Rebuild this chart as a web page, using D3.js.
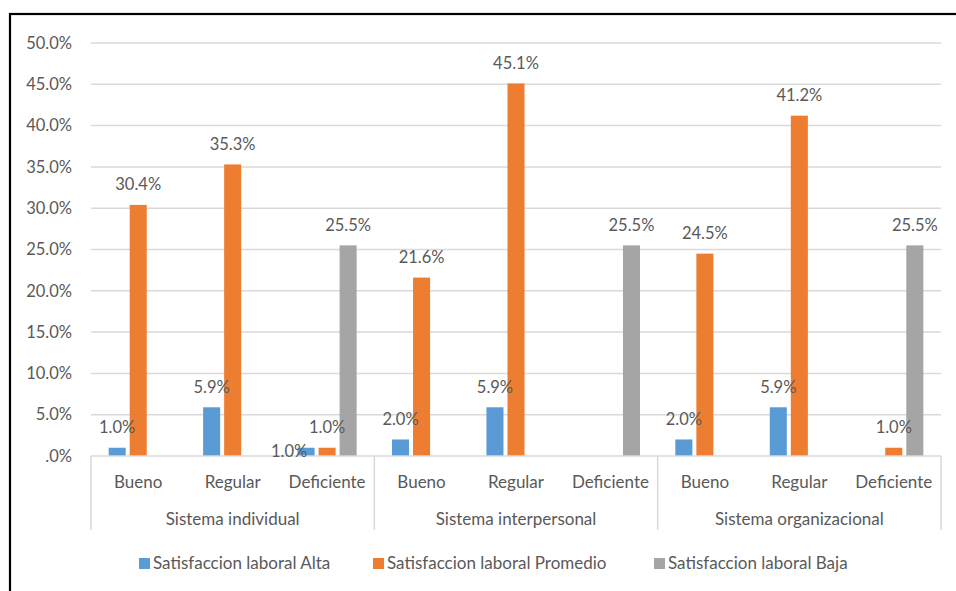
<!DOCTYPE html>
<html>
<head>
<meta charset="utf-8">
<script src="https://cdn.jsdelivr.net/npm/d3@7"></script>
<style>
  html, body { margin: 0; padding: 0; background: #fff; }
  svg { display: block; }
  text { font-family: Lato, "Open Sans", sans-serif; fill: #595959; }
</style>
</head>
<body>
<svg id="chart" width="956" height="591"></svg>
<script>
// Data
const groups = ["Sistema individual", "Sistema interpersonal", "Sistema organizacional"];
const categories = ["Bueno", "Regular", "Deficiente"];
const seriesNames = ["Satisfaccion laboral Alta", "Satisfaccion laboral Promedio", "Satisfaccion laboral Baja"];
// values per group, in category order
const alta = [[1.0, 5.9, 1.0], [2.0, 5.9, 0], [2.0, 5.9, 0]];
const promedio = [[30.4, 35.3, 1.0], [21.6, 45.1, 0], [24.5, 41.2, 1.0]];
const baja = [[0, 0, 25.5], [0, 0, 25.5], [0, 0, 25.5]];
const yTicks = [0, 5, 10, 15, 20, 25, 30, 35, 40, 45, 50];

const colors = ["#5B9BD5", "#ED7D31", "#A5A5A5"];
const seriesValues = [alta, promedio, baja];
const numSize = 16.5, textSize = 17;

const svg = d3.select("#chart");

// outer frame
svg.append("rect")
  .attr("x", 10).attr("y", 14).attr("width", 980).attr("height", 620)
  .attr("fill", "none").attr("stroke", "#000").attr("stroke-width", 2.2);

const plot = { left: 91, right: 941, top: 43, bottom: 456 };

const y = d3.scaleLinear().domain([0, 50]).range([plot.bottom, plot.top]);
const xGroup = d3.scaleBand().domain(groups).range([plot.left, plot.right]);
const xCat = d3.scaleBand().domain(categories).range([0, xGroup.bandwidth()]);
const xSeries = d3.scaleBand().domain(d3.range(3))
  .range([0, xCat.bandwidth()]).paddingInner(0.19).paddingOuter(0.84);

// gridlines
svg.append("g").selectAll("line").data(yTicks.filter(d => d > 0)).join("line")
  .attr("x1", plot.left).attr("x2", plot.right)
  .attr("y1", d => y(d)).attr("y2", d => y(d))
  .attr("stroke", "#d9d9d9").attr("stroke-width", 1.5);

// y tick labels
const yFmt = v => v === 0 ? ".0%" : v.toFixed(1) + "%";
svg.append("g").selectAll("text").data(yTicks).join("text")
  .attr("x", 72).attr("y", d => y(d)).attr("dy", "0.35em")
  .attr("text-anchor", "end").attr("font-size", numSize)
  .text(yFmt);

// bars
const bars = [];
groups.forEach((g, gi) => {
  categories.forEach((c, ci) => {
    seriesValues.forEach((vals, si) => {
      bars.push({ g, c, gi, ci, si, v: vals[gi][ci] });
    });
  });
});
const barX = d => xGroup(d.g) + xCat(d.c) + xSeries(d.si);

svg.append("g").selectAll("rect").data(bars.filter(d => d.v > 0)).join("rect")
  .attr("x", barX)
  .attr("y", d => y(d.v))
  .attr("width", xSeries.bandwidth())
  .attr("height", d => y(0) - y(d.v))
  .attr("fill", d => colors[d.si]);

// x axis line and category separators
svg.append("line")
  .attr("x1", plot.left).attr("x2", plot.right)
  .attr("y1", plot.bottom).attr("y2", plot.bottom)
  .attr("stroke", "#d9d9d9").attr("stroke-width", 1.5);
const seps = groups.map(g => xGroup(g)).concat([plot.right]);
svg.append("g").selectAll("line").data(seps).join("line")
  .attr("x1", d => d).attr("x2", d => d)
  .attr("y1", plot.bottom).attr("y2", 530)
  .attr("stroke", "#d9d9d9").attr("stroke-width", 1.5);

// category labels
const catLabels = [];
groups.forEach(g => categories.forEach(c => catLabels.push({ g, c })));
svg.append("g").selectAll("text").data(catLabels).join("text")
  .attr("x", d => xGroup(d.g) + xCat(d.c) + xCat.bandwidth() / 2)
  .attr("y", 482).attr("dy", "0.35em")
  .attr("text-anchor", "middle").attr("font-size", textSize)
  .text(d => d.c);

// group labels
svg.append("g").selectAll("text").data(groups).join("text")
  .attr("x", d => xGroup(d) + xGroup.bandwidth() / 2)
  .attr("y", 519).attr("dy", "0.35em")
  .attr("text-anchor", "middle").attr("font-size", textSize)
  .text(d => d);

// value labels; a label that would collide with its neighbour is moved beside the bar base
const shifted = d => d.si === 0 && d.ci === 2 && promedio[d.gi][d.ci] > 0;
svg.append("g").selectAll("text").data(bars.filter(d => d.v > 0)).join("text")
  .attr("x", d => barX(d) + xSeries.bandwidth() / 2 + (shifted(d) ? -17 : 0))
  .attr("y", d => y(d.v) - 20.5 + (shifted(d) ? 24 : 0))
  .attr("dy", "0.35em")
  .attr("text-anchor", "middle").attr("font-size", numSize)
  .text(d => d.v.toFixed(1) + "%");

// legend
const legendX = [139, 373, 654];
const legend = svg.append("g").selectAll("g").data(seriesNames).join("g")
  .attr("transform", (d, i) => `translate(${legendX[i]},558)`);
legend.append("rect").attr("width", 11).attr("height", 11)
  .attr("fill", (d, i) => colors[i]);
legend.append("text").attr("x", 14).attr("y", 5.5).attr("dy", "0.35em")
  .attr("font-size", textSize).text(d => d);
</script>
</body>
</html>
